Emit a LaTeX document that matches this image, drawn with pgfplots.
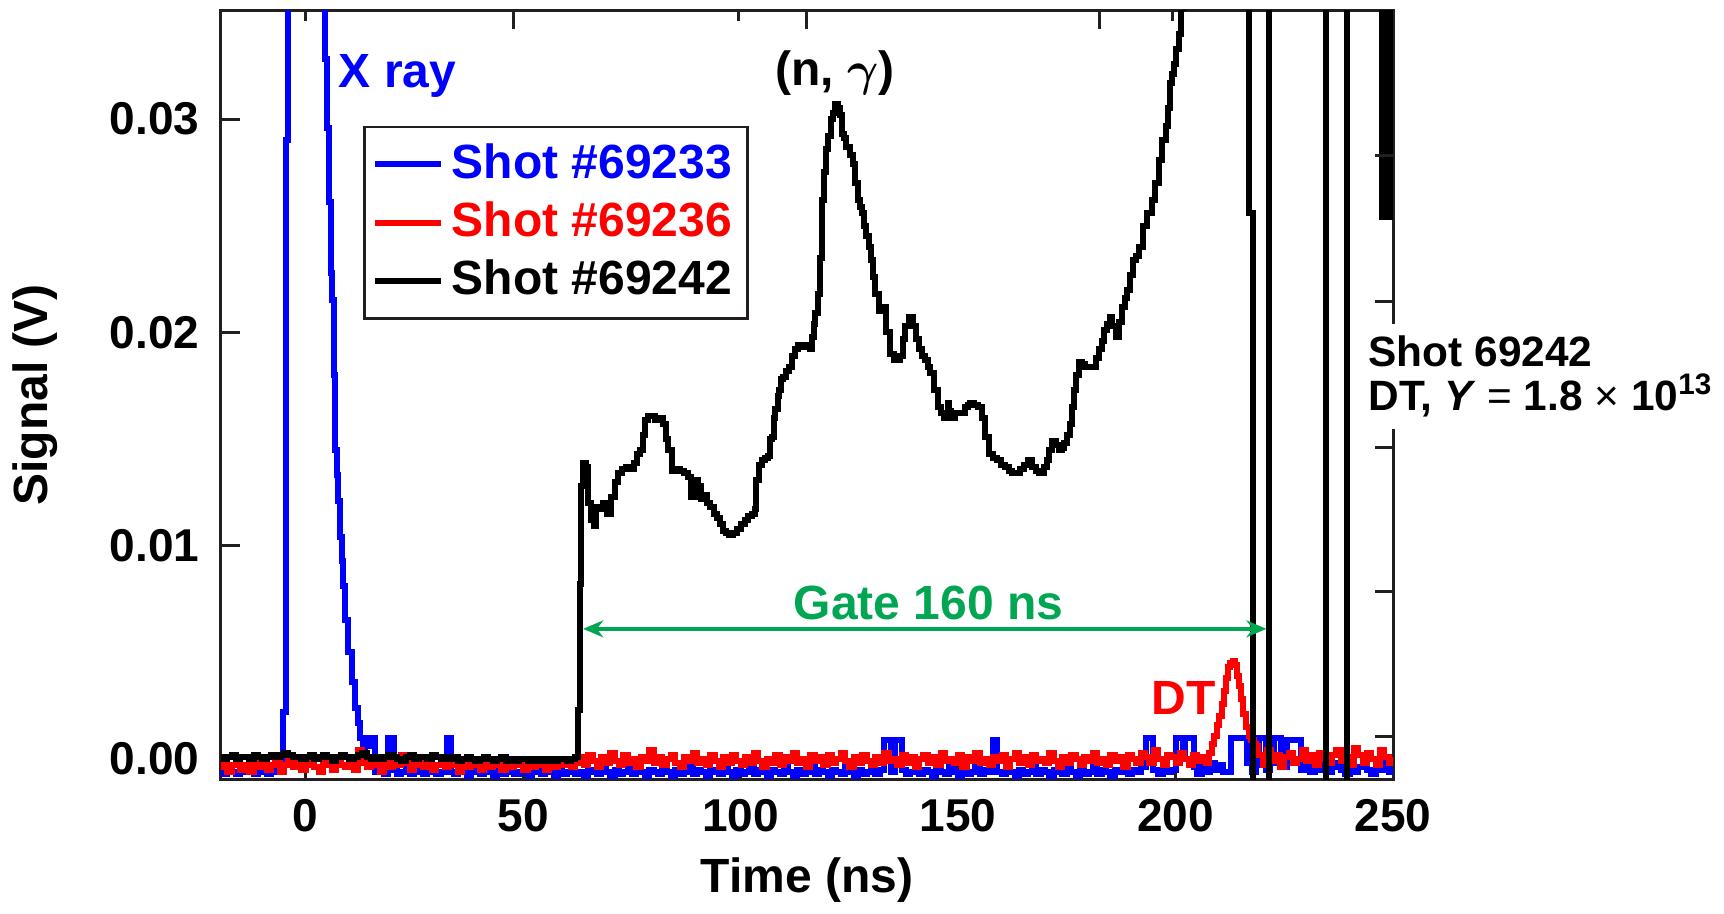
\documentclass[border=0pt]{standalone}
\usepackage{fontspec}
\setmainfont{Liberation Sans}
\usepackage{pgfplots}
\pgfplotsset{compat=1.18}
\usetikzlibrary{arrows.meta}
\definecolor{gatecol}{RGB}{0,166,81}
\definecolor{axcol}{RGB}{35,31,32}

\begin{document}
\fontsize{12}{14}\selectfont\bfseries
\begin{tikzpicture}[font=\fontsize{12}{14}\selectfont\bfseries]
\begin{axis}[
  scale only axis, width=293pt, height=192pt,
  xmin=-19.48, xmax=250, ymin=-0.00094, ymax=0.03507,
  xtick={0,50,...,250}, ytick={0,0.01,0.02,0.03},
  yticklabels={0.00,0.01,0.02,0.03},
  xtick pos=left, ytick pos=left, tick align=inside,
  major tick length=4.75pt,
  every tick/.style={axcol, line width=0.75pt},
  axis line style={axcol, line width=0.75pt},
  /pgf/number format/assume math mode=true,
  tick label style={font=\fontsize{11.5}{13}\selectfont\bfseries},
  xticklabel style={yshift=-1pt},
  yticklabel style={xshift=-1.25pt},
  label style={font=\fontsize{12}{14}\selectfont\bfseries},
  xlabel={Time (ns)}, ylabel={Signal (V)},
  every axis x label/.style={at={(axis description cs:0.5,-0.1315)},anchor=center},
  every axis y label/.style={at={(axis description cs:-0.1587,0.5)},rotate=90,anchor=center},
  clip mode=individual,
  const plot,
  every axis plot/.append style={line width=1.5pt},
  legend cell align=left,
  legend image code/.code={\draw[#1, line width=1.5pt] (0pt,0pt) -- (16.5pt,0pt);},
  legend style={at={(axis cs:13.2,0.02968)}, anchor=north west, draw=axcol,
    line width=0.6pt, fill=white, inner xsep=2pt, inner ysep=2pt,
    font=\fontsize{12}{14}\selectfont\bfseries,
    nodes={inner xsep=1.9pt, inner ysep=2.05pt}},
]
% Shot 69233 (blue)
\addplot[blue] coordinates {
(-20,-0.0006) (-19,-0.0007) (-18,-0.0004) (-17,-0.0006) (-16,-0.0007) (-15,-0.0005)
(-14,-0.0006) (-13,-0.0004) (-12,-0.0007) (-11,-0.0006) (-10,-0.0005) (-9,-0.0007)
(-8,-0.0006) (-7,-0.0004) (-6,-0.0006) (-5.6,-0.0003) (-5.2,0.0022) (-4.6,0.0290)
(-4.1,0.2000) (4.5,0.0328) (4.9,0.0296) (5.3,0.0261) (5.8,0.0228) (6.1,0.0215)
(6.4,0.0180) (6.7,0.0145) (7.1,0.0133) (7.5,0.0121) (7.9,0.0104) (8.3,0.0093)
(8.6,0.0081) (9.0,0.0065) (9.7,0.0050) (10.6,0.0036) (11.3,0.0024) (12.0,0.0017)
(12.5,0.0010) (13.2,0.0004) (13.6,0.0010) (14.3,0.0006) (15.0,0.0010) (16,-0.0006)
(17,-0.0005) (18,-0.0007) (19,0.0010) (20.3,-0.0005) (21,-0.0007) (22,-0.0006)
(23,-0.0004) (24,-0.0007) (25,-0.0006) (26,-0.0005) (27,-0.0007) (28,-0.0006)
(29,-0.0005) (30,-0.0007) (31,-0.0006) (32.4,0.0010) (33.4,-0.0006) (34,-0.0007)
(35,-0.0005) (36,-0.0006) (37,-0.0008) (38,-0.0005) (39,-0.0006) (40,-0.0007)
(41,-0.0004) (42,-0.0006) (43,-0.0008) (44,-0.0005) (45,-0.0007) (46,-0.0006)
(47,-0.0004) (48,-0.0007) (49,-0.0006) (50,-0.0005) (51,-0.0008) (52,-0.0006)
(53,-0.0004) (54,-0.0007) (55,-0.0005) (56,-0.0006) (57,-0.0008) (58,-0.0005)
(59,-0.0007) (60,-0.0006) (61,-0.0004) (62,-0.0007) (63,-0.0006) (64,-0.0008)
(65,-0.0005) (66,-0.0006) (67,-0.0007) (68,-0.0004) (69,-0.0006) (70,-0.0008)
(71,-0.0005) (72,-0.0007) (73,-0.0006) (74,-0.0004) (75,-0.0007) (76,-0.0005)
(77,-0.0006) (78,-0.0008) (79,-0.0005) (80,-0.0006) (81,-0.0007) (82,-0.0004)
(83,-0.0006) (84,-0.0008) (85,-0.0005) (86,-0.0007) (87,-0.0006) (88,-0.0003)
(89,-0.0007) (90,-0.0005) (91,-0.0006) (92,-0.0008) (93,-0.0005) (94,-0.0006)
(95,-0.0007) (96,-0.0004) (97,-0.0006) (98,-0.0008) (99,-0.0005) (100,-0.0007)
(101,-0.0006) (102,-0.0004) (103,-0.0007) (104,-0.0005) (105,-0.0006) (106,-0.0008)
(107,-0.0005) (108,-0.0006) (109,-0.0007) (110,-0.0004) (111,-0.0006) (112,-0.0008)
(113,-0.0005) (114,-0.0007) (115,-0.0006) (116,-0.0003) (117,-0.0007) (118,-0.0005)
(119,-0.0006) (120,-0.0008) (121,-0.0005) (122,-0.0006) (123,-0.0007) (124,-0.0004)
(125,-0.0006) (126,-0.0008) (127,-0.0005) (128,-0.0007) (129,-0.0006) (130,-0.0004)
(131,-0.0007) (132,-0.0005) (133,0.0009) (134.5,-0.0006) (135.5,0.0009) (137,-0.0005)
(138,-0.0007) (139,-0.0006) (140,-0.0004) (141,-0.0007) (142,-0.0005) (143,-0.0006)
(144,-0.0008) (145,-0.0005) (146,-0.0006) (147,-0.0007) (148,-0.0004) (149,-0.0006)
(150,-0.0008) (151,-0.0005) (152,-0.0007) (153,-0.0006) (154,-0.0004) (155,-0.0007)
(156,-0.0005) (157,-0.0006) (158,0.0009) (159,-0.0006) (160,-0.0007) (161,-0.0004)
(162,-0.0006) (163,-0.0008) (164,-0.0005) (165,-0.0007) (166,-0.0006) (167,-0.0004)
(168,-0.0007) (169,-0.0005) (170,-0.0006) (171,-0.0008) (172,-0.0005) (173,-0.0006)
(174,-0.0007) (175,-0.0004) (176,-0.0006) (177,-0.0008) (178,-0.0005) (179,-0.0007)
(180,-0.0006) (181,-0.0004) (182,-0.0007) (183,-0.0005) (184,-0.0006) (185,-0.0008)
(186,-0.0005) (187,-0.0006) (188,-0.0003) (189,-0.0007) (190,-0.0005) (191,-0.0006)
(192,-0.0004) (193.2,0.0010) (194.7,-0.0005) (196,-0.0007) (197,-0.0003) (198,-0.0006)
(199,-0.0005) (200.1,0.0010) (201.6,0.0003) (202.2,0.0010) (204.3,-0.0004) (205,-0.0007)
(206,-0.0003) (207,-0.0006) (208,-0.0002) (209,-0.0005) (210,-0.0003) (211,-0.0006)
(212.7,0.0010) (216.5,-0.0002) (217.5,-0.0006) (218.5,-0.0003) (219.3,0.0010) (220.8,-0.0005)
(221.7,-0.0002) (222.7,0.0010) (224.2,-0.0004) (225.7,0.0009) (228.8,-0.0005) (230,-0.0003)
(231,-0.0006) (232,-0.0002) (233,-0.0005) (234,-0.0003) (235,-0.0006) (236,-0.0004)
(237,-0.0002) (238,-0.0005) (239,-0.0007) (240,-0.0003) (241,-0.0006) (242,-0.0004)
(243,-0.0002) (244,-0.0005) (245,-0.0007) (246,-0.0003) (247,-0.0005) (248,-0.0002)
(249,-0.0006) (250,-0.0004)
};
\addlegendentry{\textcolor{blue}{Shot \#69233}}
% Shot 69236 (red)
\addplot[red] coordinates {
(-20,-0.0004) (-19,-0.0002) (-18,-0.0006) (-17,-0.0003) (-16,-0.0001) (-15,-0.0005)
(-14,-0.0003) (-13,-0.0006) (-12,-0.0002) (-11,-0.0004) (-10,-0.0001) (-9,-0.0005)
(-8,-0.0003) (-7,-0.0002) (-6,-0.0006) (-5,-0.0003) (-4,0.0000) (-3,-0.0004)
(-2,-0.0002) (-1,-0.0005) (0,-0.0003) (1,-0.0001) (2,-0.0004) (3,-0.0006)
(4,-0.0002) (5,-0.0003) (6,-0.0005) (7,-0.0001) (8,-0.0003) (9,-0.0004)
(10,-0.0002) (11,-0.0005) (12,0.0004) (13,-0.0002) (14,-0.0004) (15,-0.0001)
(16,-0.0003) (17,-0.0006) (18,-0.0002) (19,-0.0004) (20,-0.0001) (21,-0.0003)
(22,0.0002) (23,-0.0002) (24,-0.0005) (25,-0.0003) (26,-0.0001) (27,-0.0004)
(28,-0.0002) (29,-0.0005) (30,-0.0003) (31,-0.0001) (32,-0.0004) (33,-0.0002)
(34,-0.0003) (35,-0.0006) (36,-0.0002) (37,-0.0004) (38,-0.0001) (39,-0.0003)
(40,-0.0005) (41,-0.0002) (42,-0.0004) (43,-0.0001) (44,-0.0003) (45,-0.0005)
(46,-0.0002) (47,-0.0004) (48,-0.0002) (49,-0.0003) (50,-0.0005) (51,-0.0001)
(52,-0.0004) (53,-0.0002) (54,-0.0003) (55,-0.0005) (56,-0.0002) (57,-0.0004)
(58,-0.0001) (59,-0.0003) (60,-0.0002) (61,-0.0004) (62,-0.0002) (63,0.0001)
(64,-0.0003) (65,0.0002) (66,-0.0001) (67,-0.0004) (68,0.0001) (69,-0.0002)
(70,0.0003) (71,-0.0001) (72,-0.0003) (73,0.0002) (74,-0.0002) (75,0.0000)
(76,-0.0004) (77,0.0001) (78,-0.0001) (79,0.0004) (80,-0.0002) (81,0.0001)
(82,-0.0003) (83,0.0000) (84,0.0002) (85,-0.0002) (86,-0.0004) (87,0.0001)
(88,-0.0001) (89,0.0003) (90,-0.0002) (91,0.0000) (92,-0.0003) (93,0.0002)
(94,-0.0001) (95,-0.0004) (96,0.0001) (97,-0.0002) (98,0.0002) (99,-0.0001)
(100,-0.0003) (101,0.0001) (102,-0.0002) (103,0.0003) (104,-0.0001) (105,-0.0004)
(106,0.0000) (107,-0.0002) (108,0.0002) (109,-0.0003) (110,0.0001) (111,-0.0001)
(112,0.0003) (113,-0.0002) (114,0.0000) (115,-0.0004) (116,0.0002) (117,-0.0001)
(118,0.0001) (119,-0.0003) (120,0.0002) (121,-0.0002) (122,0.0000) (123,0.0003)
(124,-0.0001) (125,-0.0004) (126,0.0001) (127,-0.0002) (128,0.0002) (129,-0.0001)
(130,-0.0003) (131,0.0001) (132,-0.0002) (133,0.0003) (134,-0.0001) (135,0.0000)
(136,-0.0003) (137,0.0002) (138,-0.0002) (139,0.0001) (140,-0.0004) (141,0.0000)
(142,0.0002) (143,-0.0002) (144,0.0001) (145,-0.0003) (146,0.0003) (147,-0.0001)
(148,0.0000) (149,-0.0002) (150,0.0002) (151,-0.0004) (152,0.0001) (153,-0.0001)
(154,0.0003) (155,-0.0002) (156,0.0000) (157,-0.0003) (158,0.0001) (159,-0.0001)
(160,0.0002) (161,-0.0004) (162,0.0000) (163,0.0003) (164,-0.0002) (165,0.0001)
(166,-0.0003) (167,0.0002) (168,-0.0001) (169,0.0000) (170,-0.0002) (171,0.0003)
(172,-0.0001) (173,-0.0004) (174,0.0001) (175,-0.0002) (176,0.0002) (177,0.0000)
(178,-0.0003) (179,0.0001) (180,-0.0001) (181,0.0003) (182,-0.0002) (183,0.0000)
(184,-0.0003) (185,0.0002) (186,-0.0001) (187,0.0001) (188,-0.0004) (189,0.0002)
(190,0.0000) (191,-0.0002) (192,0.0003) (193,0.0001) (194,-0.0002) (195,0.0004)
(196,0.0000) (197,-0.0003) (198,0.0002) (199,0.0001) (200,-0.0002) (201,0.0003)
(202,0.0000) (203,-0.0003) (204,0.0002) (205,-0.0001) (206,0.0001) (207,-0.0002)
(207.8,0.0003) (208.4,0.0007) (208.9,0.0011) (209.5,0.0016) (210.0,0.0020) (210.6,0.0026)
(211.2,0.0032) (211.6,0.0038) (212.0,0.0043) (212.5,0.0045) (213.1,0.0046) (213.7,0.0044)
(214.2,0.0039) (214.6,0.0034) (215.0,0.0028) (215.6,0.0021) (216.2,0.0015) (216.8,0.0011)
(217.3,0.0009) (218.0,0.0007) (218.5,0.0006) (219,0.0002) (220,-0.0003) (221,0.0004)
(222,-0.0001) (223,0.0002) (224,-0.0004) (225,0.0001) (226,0.0003) (227,-0.0002)
(228,0.0000) (229,0.0004) (230,-0.0001) (231,0.0002) (232,-0.0003) (233,0.0003)
(234,0.0000) (235,-0.0002) (236,0.0002) (237,0.0004) (238,-0.0001) (239,0.0001)
(240,-0.0003) (241,0.0005) (242,0.0002) (243,-0.0002) (244,0.0003) (245,0.0000)
(246,-0.0003) (247,0.0004) (248,0.0001) (249,-0.0002) (250,0.0001)
};
\addlegendentry{\textcolor{red}{Shot \#69236}}
% Shot 69242 (black)
\addplot[black] coordinates {
(-20,0.0001) (-19,0.0000) (-18,0.0001) (-17,0.0002) (-16,0.0000) (-15,0.0001)
(-14,0.0001) (-13,0.0000) (-12,0.0002) (-11,0.0001) (-10,0.0000) (-9,0.0001)
(-8,0.0002) (-7,0.0001) (-6,0.0002) (-5,0.0003) (-4,0.0002) (-3,0.0001)
(-2,0.0001) (-1,0.0000) (0,0.0001) (1,0.0002) (2,0.0000) (3,0.0001)
(4,0.0002) (5,0.0001) (6,-0.0001) (7,0.0001) (8,0.0002) (9,0.0001)
(10,0.0000) (11,0.0001) (12,0.0002) (13,0.0003) (14,0.0001) (15,0.0000)
(16,0.0001) (17,0.0000) (18,0.0001) (19,0.0002) (20,0.0001) (21,0.0000)
(22,-0.0001) (23,0.0001) (24,0.0002) (25,0.0000) (26,0.0001) (27,0.0001)
(28,0.0000) (29,0.0002) (30,0.0001) (31,0.0000) (32,0.0001) (33,0.0000)
(34,0.0001) (35,-0.0001) (36,0.0000) (37,0.0001) (38,0.0000) (39,-0.0001)
(40,0.0000) (41,0.0001) (42,0.0000) (43,-0.0001) (44,0.0000) (45,0.0001)
(46,-0.0001) (47,0.0000) (48,-0.0001) (49,0.0000) (50,0.0000) (51,-0.0001)
(52,0.0000) (53,-0.0001) (54,0.0000) (55,-0.0001) (56,0.0000) (57,-0.0001)
(58,0.0000) (59,0.0000) (60,-0.0001) (61,0.0000) (62,0.0001) (62.6,0.0023)
(63.0,0.0082) (63.4,0.0128) (63.7,0.0139) (64.5,0.0137) (65.0,0.0120) (65.6,0.0112)
(66.2,0.0109) (66.7,0.0118) (67.5,0.0117) (68.4,0.0120) (69.3,0.0115) (70.2,0.0123)
(71.0,0.0130) (71.9,0.0134) (72.8,0.0136) (73.7,0.0137) (74.6,0.0136) (75.5,0.0139)
(76.2,0.0143) (76.8,0.0145) (77.5,0.0152) (78.1,0.0159) (78.8,0.0161) (79.4,0.0161)
(80.3,0.0159) (81.2,0.0160) (82.1,0.0157) (82.8,0.0150) (83.4,0.0145) (84.3,0.0135)
(85.1,0.0136) (86.0,0.0135) (86.9,0.0134) (87.8,0.0132) (88.7,0.0123) (89.5,0.0131)
(90.2,0.0128) (90.8,0.0122) (91.5,0.0124) (92.2,0.0120) (93.0,0.0118) (93.9,0.0115)
(94.5,0.0113) (95.2,0.0110) (95.9,0.0107) (96.6,0.0106) (97.4,0.0105) (98.3,0.0106)
(99.2,0.0108) (100.1,0.0110) (101.0,0.0112) (101.8,0.0114) (102.5,0.0115) (103.2,0.0117)
(103.6,0.0131) (104.3,0.0138) (104.9,0.0140) (105.5,0.0141) (106.2,0.0142) (106.7,0.0150)
(107.1,0.0151) (107.6,0.0160) (108.0,0.0164) (108.5,0.0170) (108.9,0.0173) (109.3,0.0178)
(109.7,0.0179) (110.4,0.0182) (111.1,0.0184) (111.8,0.0189) (112.4,0.0192) (113.3,0.0194)
(114.2,0.0193) (115.0,0.0194) (115.9,0.0192) (116.4,0.0198) (116.8,0.0204) (117.2,0.0209)
(117.7,0.0218) (118.2,0.0235) (118.7,0.0262) (119.2,0.0275) (119.7,0.0286) (120.2,0.0292)
(120.7,0.0300) (121.3,0.0303) (121.8,0.0307) (122.3,0.0305) (122.8,0.0302) (123.3,0.0293)
(123.8,0.0291) (124.3,0.0287) (125.1,0.0283) (125.9,0.0279) (126.4,0.0270) (126.9,0.0262)
(127.4,0.0259) (127.9,0.0256) (128.4,0.0250) (128.9,0.0245) (129.5,0.0240) (130.0,0.0234)
(130.5,0.0226) (131.0,0.0218) (131.7,0.0210) (132.6,0.0212) (133.5,0.0200) (134.4,0.0190)
(135.2,0.0187) (136.0,0.0187) (136.6,0.0189) (137.3,0.0197) (137.9,0.0203) (138.8,0.0207)
(139.6,0.0203) (140.3,0.0197) (141.0,0.0192) (141.7,0.0189) (142.3,0.0187) (143.0,0.0184)
(143.6,0.0181) (144.5,0.0173) (145.4,0.0165) (146.0,0.0162) (146.7,0.0160) (147.6,0.0167)
(148.0,0.0163) (148.4,0.0160) (149.3,0.0162) (150.2,0.0162) (151.5,0.0165) (152.2,0.0166)
(152.8,0.0167) (153.7,0.0166) (154.6,0.0165) (155.5,0.0160) (156.3,0.0151) (157.2,0.0143)
(158.1,0.0141) (159.0,0.0140) (159.8,0.0138) (160.7,0.0137) (161.6,0.0135) (162.5,0.0134)
(163.4,0.0134) (164.3,0.0136) (165.2,0.0138) (166.0,0.0140) (166.9,0.0137) (167.8,0.0135)
(168.5,0.0134) (169.1,0.0134) (169.8,0.0137) (170.4,0.0140) (171.0,0.0145) (171.7,0.0149)
(172.4,0.0147) (173.1,0.0145) (173.8,0.0146) (174.4,0.0148) (175.0,0.0152) (175.7,0.0157)
(176.2,0.0165) (176.6,0.0173) (177.2,0.0180) (177.9,0.0186) (178.5,0.0185) (179.2,0.0184)
(180.1,0.0184) (181.0,0.0184) (181.7,0.0188) (182.3,0.0192) (183.0,0.0196) (183.6,0.0201)
(184.3,0.0204) (184.9,0.0207) (185.5,0.0203) (186.2,0.0198) (186.9,0.0205) (187.6,0.0212)
(188.3,0.0216) (188.9,0.0220) (189.6,0.0227) (190.2,0.0234) (190.9,0.0236) (191.5,0.0240)
(192.5,0.0250) (193.5,0.0256) (194.6,0.0262) (195.3,0.0270) (196.1,0.0281) (196.9,0.0290)
(197.7,0.0297) (198.2,0.0305) (198.7,0.0317) (199.2,0.0321) (199.7,0.0326) (200.2,0.0333)
(200.7,0.0340) (201.2,0.0352) (201.6,0.0400) (202.0,0.0500) (216.9,0.0256) (217.7,-0.0050)
(221.5,0.0500) (234.5,-0.0050) (239.5,0.0500) (247.4,0.0254) (248.3,0.0500) (248.4,0.0254)
(249.3,0.0500) (250.0,0.0500)
};
\addlegendentry{\textcolor{black}{Shot \#69242}}
% annotations
\node[blue, anchor=base west, inner sep=0pt] at (axis cs:7.43,0.03146) {X ray};
\node[black, anchor=base, inner sep=0pt] at (axis cs:121.7,0.0316) {(n, {\boldmath$\gamma$})};
\node[gatecol, anchor=center, inner sep=0pt] at (axis cs:143.2,0.00731) {Gate 160 ns};
\draw[gatecol, line width=1.1pt,
  {Stealth[length=5pt,width=4.2pt,inset=1.6pt]}-{Stealth[length=5pt,width=4.2pt,inset=1.6pt]}]
  (axis cs:63.8,0.0061) -- (axis cs:220.9,0.0061);
\node[red, anchor=center, inner sep=0pt] at (axis cs:201.8,0.00288) {DT};
\node[anchor=north west, fill=white, inner xsep=1pt, inner ysep=3pt, align=left,
  font=\fontsize{10.6}{11}\selectfont\bfseries] at (axis cs:243.3,0.02044)
  {Shot 69242\\DT, \textit{Y} {\mdseries =} 1.8 {\mdseries ×} 10\textsuperscript{13}};
\end{axis}
% ticks of the top and right axes (no labels)
\begin{axis}[
  scale only axis, width=293pt, height=192pt,
  xmin=-19.48, xmax=250, ymin=-0.00094, ymax=0.03507,
  axis line style={draw=none},
  xtick={47.85,115.2,182.5}, minor xtick={0,99.5,199.3},
  ytick={0.001031,0.007829,0.014627,0.021472,0.028317},
  xtick pos=right, ytick pos=right, tick align=inside,
  major tick length=4.6pt, minor tick length=2.5pt,
  every tick/.style={axcol, line width=0.75pt},
  xticklabels={}, yticklabels={},
]
\end{axis}
\pgfresetboundingbox
\path (-55.25pt,-33.5pt) rectangle (375.75pt,194.75pt);
\end{tikzpicture}
\end{document}
